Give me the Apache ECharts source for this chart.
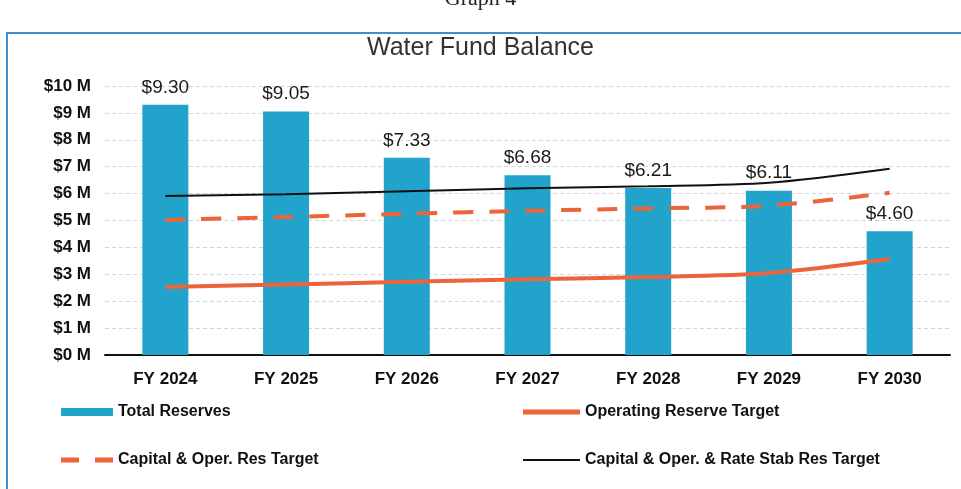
<!DOCTYPE html>
<html>
<head>
<meta charset="utf-8">
<script src="https://cdn.jsdelivr.net/npm/echarts@6/dist/echarts.min.js"></script>
<style>
  html, body { margin: 0; padding: 0; background: #fff; }
  #chart { width: 961px; height: 489px; }
</style>
</head>
<body>
<div id="chart"></div>
<script>
const years = ['FY 2024', 'FY 2025', 'FY 2026', 'FY 2027', 'FY 2028', 'FY 2029', 'FY 2030']
const totalReserves = [9.30, 9.05, 7.33, 6.68, 6.21, 6.11, 4.60]
const operatingTarget = [2.53, 2.62, 2.72, 2.82, 2.90, 3.05, 3.57]
const capOperTarget = [5.02, 5.13, 5.25, 5.36, 5.45, 5.55, 6.03]
const capOperRateTarget = [5.91, 5.98, 6.09, 6.20, 6.27, 6.40, 6.92]
const yTicks = ['$0 M', '$1 M', '$2 M', '$3 M', '$4 M', '$5 M', '$6 M', '$7 M', '$8 M', '$9 M', '$10 M']

const font = 'Liberation Sans, Arial, sans-serif'
const orange = '#ec6439'
const blue = '#21a3cc'

let myChart = echarts.init(document.getElementById('chart'))

function legendAt (name, left, top, w, h, icon) {
  return {
    data: [{ name: name, icon: icon }],
    left: left,
    top: top,
    itemWidth: w,
    itemHeight: h,
    itemGap: 6,
    textStyle: { fontFamily: font, fontSize: 16, fontWeight: 'bold', color: '#111' }
  }
}

let option = {
  animation: false,
  backgroundColor: '#fff',
  title: {
    text: 'Water Fund Balance',
    left: 'center',
    top: 31,
    textStyle: { fontFamily: font, fontSize: 25, fontWeight: 'normal', color: '#333' }
  },
  graphic: [
    {
      type: 'text',
      left: 'center',
      top: -12,
      style: { text: 'Graph 4', font: '22px Liberation Serif, serif', fill: '#222' }
    },
    {
      type: 'rect',
      shape: { x: 7, y: 33, width: 1000, height: 500 },
      style: { fill: 'none', stroke: '#3d8fd1', lineWidth: 2 },
      z: -1
    }
  ],
  legend: [
    legendAt('Total Reserves', 56, 399, 52, 8, 'rect'),
    legendAt('Operating Reserve Target', 518, 399, 57, 5, 'rect'),
    legendAt('Capital & Oper. Res Target', 56, 447, 52, 5, 'path://M0,0H18V5H0Z M34,0H52V5H34Z'),
    legendAt('Capital & Oper. & Rate Stab Res Target', 518, 447, 57, 2, 'rect')
  ],
  grid: { left: 105, right: 11, top: 86, bottom: 134 },
  xAxis: {
    type: 'category',
    data: years,
    axisLine: { lineStyle: { color: '#111', width: 2 } },
    axisTick: { show: false },
    axisLabel: { fontFamily: font, fontSize: 17, fontWeight: 'bold', color: '#111', margin: 16 }
  },
  yAxis: {
    type: 'value',
    min: 0,
    max: 10,
    interval: 1,
    axisLabel: {
      fontFamily: font, fontSize: 17, fontWeight: 'bold', color: '#111', margin: 14,
      formatter: (v) => yTicks[v]
    },
    splitLine: { lineStyle: { color: '#d6d6d6', type: [4, 3], width: 1 } }
  },
  series: [
    {
      name: 'Total Reserves',
      type: 'bar',
      data: totalReserves,
      barWidth: 46,
      itemStyle: { color: blue },
      label: {
        show: true,
        position: 'top',
        distance: 8,
        fontFamily: font,
        fontSize: 19,
        color: '#1a1a1a',
        formatter: (p) => '$' + p.value.toFixed(2)
      }
    },
    {
      name: 'Operating Reserve Target',
      type: 'line',
      data: operatingTarget,
      smooth: 0.3,
      symbol: 'none',
      itemStyle: { color: orange },
      lineStyle: { color: orange, width: 4 }
    },
    {
      name: 'Capital & Oper. Res Target',
      type: 'line',
      data: capOperTarget,
      smooth: 0.3,
      symbol: 'none',
      itemStyle: { color: orange },
      lineStyle: { color: orange, width: 4, type: [20, 16] }
    },
    {
      name: 'Capital & Oper. & Rate Stab Res Target',
      type: 'line',
      data: capOperRateTarget,
      smooth: 0.3,
      symbol: 'none',
      itemStyle: { color: '#111' },
      lineStyle: { color: '#111', width: 2 }
    }
  ]
}
myChart.setOption(option)
</script>
</body>
</html>
